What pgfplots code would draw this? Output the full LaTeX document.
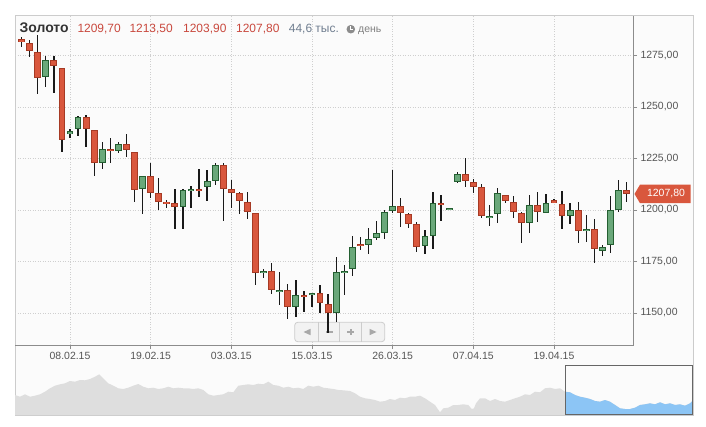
\documentclass[border=0pt]{standalone}
\usepackage{pgfplots}
\pgfplotsset{compat=1.18}
\usepackage{pgfplotstable}
\usepackage{fontspec}
\setmainfont{Liberation Sans}

\definecolor{gfill}{HTML}{6AA87A}
\definecolor{gline}{HTML}{245F31}
\definecolor{rfill}{HTML}{D9573D}
\definecolor{rline}{HTML}{A63A24}
\definecolor{gridc}{HTML}{CFCFCF}
\definecolor{axc}{HTML}{8C8C8C}
\definecolor{txt}{HTML}{555555}
\definecolor{ttlred}{HTML}{C9493E}
\definecolor{volc}{HTML}{6F7D8F}
\definecolor{navgray}{HTML}{DEDEDE}
\definecolor{navblue}{HTML}{8CC5F5}
\definecolor{framec}{HTML}{CCCCCC}
\definecolor{bgc}{HTML}{FBFBFB}
\definecolor{btnc}{HTML}{A8A8A8}

\pgfplotstableread{
x o h l c
3 1264.4 1274.8 1259.9 1272.7
6 1236.7 1239.2 1234.8 1238.2
7 1239.2 1245.6 1236.1 1245.0
10 1222.7 1232.9 1219.8 1229.6
12 1228.5 1233.2 1227.5 1231.9
15 1210.0 1216.5 1198.1 1216.5
20 1201.6 1210.0 1190.6 1209.6
21 1209.4 1211.7 1201.1 1210.0
23 1211.0 1219.4 1204.5 1213.9
24 1214.2 1222.7 1212.1 1222.0
30 1169.6 1171.2 1166.8 1170.2
32 1160.3 1169.9 1154.0 1161.0
34 1153.1 1165.9 1147.9 1158.6
36 1158.6 1159.9 1153.1 1159.6
39 1150.1 1177.0 1145.5 1169.8
40 1169.6 1173.3 1158.7 1170.4
41 1171.2 1187.4 1168.0 1181.9
43 1182.9 1191.1 1178.6 1185.8
44 1186.6 1194.8 1185.4 1188.7
45 1189.0 1200.0 1185.9 1199.0
46 1199.7 1219.4 1198.4 1201.9
50 1182.7 1190.3 1178.5 1187.4
51 1187.5 1208.6 1180.9 1203.3
53 1200.1 1200.8 1200.1 1200.8
54 1213.4 1218.6 1213.0 1217.5
58 1196.1 1202.4 1192.2 1196.9
59 1197.9 1210.5 1193.8 1208.1
63 1193.5 1207.3 1188.7 1202.3
65 1198.7 1207.8 1198.4 1203.3
68 1197.2 1203.3 1193.2 1199.9
70 1189.7 1197.4 1184.5 1190.6
72 1180.0 1183.0 1177.7 1181.9
73 1182.9 1206.8 1179.3 1199.9
74 1199.9 1214.6 1199.2 1209.6
}\greens

\pgfplotstableread{
x o h l c
0 1282.9 1284.1 1279.3 1281.4
1 1280.9 1282.5 1274.4 1277.0
2 1276.6 1284.9 1256.3 1263.9
4 1272.7 1274.8 1256.7 1269.8
5 1268.8 1268.8 1228.3 1234.0
8 1245.0 1246.0 1230.7 1239.5
9 1238.8 1238.8 1216.7 1223.0
11 1229.6 1234.8 1223.0 1228.5
13 1231.9 1236.7 1225.9 1229.0
14 1228.0 1228.0 1203.7 1209.6
16 1216.5 1222.7 1205.7 1208.1
17 1208.1 1215.4 1200.0 1204.0
18 1204.0 1204.9 1200.8 1203.3
19 1203.3 1210.0 1190.9 1201.6
22 1210.0 1219.8 1206.5 1209.4
25 1222.0 1222.7 1194.8 1210.0
26 1210.0 1214.6 1201.1 1208.4
27 1208.1 1208.9 1197.9 1204.5
28 1203.9 1208.7 1195.8 1198.9
29 1198.4 1198.4 1163.4 1169.3
31 1170.2 1174.1 1159.1 1161.0
33 1161.0 1163.9 1146.9 1153.1
35 1158.9 1160.5 1150.6 1157.9
37 1159.6 1163.4 1150.1 1155.0
38 1154.4 1159.2 1140.3 1150.1
42 1183.3 1186.7 1180.6 1182.7
47 1201.9 1205.7 1191.9 1198.7
48 1197.9 1198.7 1191.4 1193.3
49 1193.2 1194.3 1179.8 1182.2
52 1203.5 1207.3 1194.8 1202.8
55 1217.5 1225.1 1211.3 1214.2
56 1213.4 1215.0 1208.1 1211.3
57 1211.0 1212.6 1196.3 1197.2
60 1207.1 1207.1 1203.5 1204.5
61 1203.7 1206.9 1196.3 1198.9
62 1198.7 1199.0 1183.8 1193.5
64 1202.3 1208.6 1194.3 1199.2
66 1204.7 1205.5 1203.3 1203.5
67 1202.9 1209.1 1190.9 1197.2
69 1199.9 1204.0 1183.8 1189.7
71 1190.6 1195.5 1174.4 1180.9
75 1209.7 1213.5 1203.9 1207.8
}\reds

\pgfplotstableread{
x v
15 20
20 18.3
25 20.7
30 18.3
35 19.3
40 20.7
45 23.3
50 26.7
55 29.3
60 30.7
65 31.7
70 34
75 33.3
80 35
85 34.7
90 36
95 38.3
99.3 40.7
103.3 36.7
108.3 31.7
113.3 29.3
118.3 26.7
123.3 26
128.3 27.3
133.3 29.3
138.3 31
143.3 28.3
148.3 26.7
153.3 27.3
158.3 26
163.3 26.7
168.3 28.3
173.3 26.7
178.3 27.3
183.3 26.7
188.3 26.7
193.3 26
198.3 26.7
203.3 25
208.3 20.7
213.3 19.3
218.3 20
223.3 20.7
228.3 23.3
233.3 22.7
238.3 29.3
243.3 30
248.3 30.7
253.3 30
258.3 31.3
263.3 30.7
268.3 33.3
273.3 30
278.3 29.3
283.3 27.3
288.3 28.3
293.3 26.7
298.3 27.3
303.3 26
308.3 29.3
313.3 28.3
318.3 29.3
323.3 27.3
328.3 26.7
333.3 26
338.3 25
343.3 24.7
350 24
355 21.7
360 18.3
365 16.7
370 16
375 15
380 13.3
385 14
390 16
395 15
400 17.3
405 16.7
410 18.3
415 18.3
420 19.3
425 16.7
430 13.3
435 10
440 2.7
443.3 6.7
448.3 7.3
453.3 10
458.3 10
463.3 10.7
468.3 10
471.7 6
474 6.7
476 11.7
480 16.7
485 16.7
490 14
495 16
500 14
505 13.3
510 15
515 16.7
520 18.3
525 20.7
530 20
535 23.3
540 22.7
545 26.7
550 27.3
555 26
560 26.7
565 23.3
570 22.7
575 20
580 18.3
585 17.3
590 16
595 14
600 13.3
605 15
610 13.3
615 10
620 6.7
625 6
630 6
635 7.3
640 10
645 10.7
650 11.7
655 10.7
660 12.7
665 10.7
670 11.7
675 10
680 10.7
685 9.3
690 11.7
692.5 14
}\nav

\pgfplotsset{
  candle/.style n args={2}{only marks, mark size=0pt, mark options={draw opacity=0, fill opacity=0}, forget plot,
    error bars/.cd, y dir=both, y explicit, error mark=none,
    error bar style={line width=#1, color=#2}},
}

\begin{document}
\begin{tikzpicture}
\begin{scope}[x=1bp,y=1bp]
\useasboundingbox (0,0) rectangle (706,426);
\fill[bgc] (15,11) rectangle (693,410);
\draw[framec, line width=1bp] (15,11) rectangle (693,410);
\end{scope}

\begin{axis}[
  at={(15bp,81bp)}, anchor=south west,
  width=618bp, height=329bp, scale only axis,
  xmin=-0.82, xmax=75.8, ymin=1134.47, ymax=1294.17,
  clip mode=individual,
  axis line style={draw=none},
  xtick={6,16,26,36,46,56,66},
  xticklabels={08.02.15,19.02.15,03.03.15,15.03.15,26.03.15,07.04.15,19.04.15},
  ytick={1150,1175,1200,1225,1250,1275},
  yticklabel pos=right,
  tick align=outside,
  major tick length=4bp,
  tick style={axc, line width=0.8bp},
  xtick pos=bottom,
  ytick pos=right,
  grid=major,
  major grid style={gridc, line width=0.8bp, dash pattern=on 1bp off 1.5bp},
  tick label style={font=\fontsize{10.5}{12}\selectfont, color=txt},
  yticklabel style={/pgf/number format/.cd, fixed, fixed zerofill, precision=2, use comma, 1000 sep={}},
  /pgf/number format/assume math mode=true,
]
% zoom buttons (behind the candles)
\coordinate (O) at (rel axis cs:0,0);
\draw[fill=white!95!black, draw=framec, line width=0.8bp, rounded corners=3bp]
  ([shift={(279.7bp,3.3bp)}]O) rectangle ([shift={(369.7bp,22.7bp)}]O);
\draw[framec, line width=0.8bp] ([shift={(303.3bp,3.3bp)}]O) -- ([shift={(303.3bp,22.7bp)}]O);
\draw[framec, line width=0.8bp] ([shift={(324.7bp,3.3bp)}]O) -- ([shift={(324.7bp,22.7bp)}]O);
\draw[framec, line width=0.8bp] ([shift={(346.7bp,3.3bp)}]O) -- ([shift={(346.7bp,22.7bp)}]O);
\fill[btnc] ([shift={(288.5bp,13bp)}]O) -- ([shift={(295.5bp,16.2bp)}]O) -- ([shift={(295.5bp,9.8bp)}]O) -- cycle;
\fill[btnc] ([shift={(311bp,12.2bp)}]O) rectangle ([shift={(317.5bp,14bp)}]O);
\fill[btnc] ([shift={(332.4bp,12.2bp)}]O) rectangle ([shift={(338.9bp,14bp)}]O);
\fill[btnc] ([shift={(334.75bp,9.9bp)}]O) rectangle ([shift={(336.55bp,16.4bp)}]O);
\fill[btnc] ([shift={(361.5bp,13bp)}]O) -- ([shift={(354.5bp,16.2bp)}]O) -- ([shift={(354.5bp,9.8bp)}]O) -- cycle;

% wicks
\addplot[candle={1.3bp}{black!90}]
  table[x=x, y expr={(\thisrow{h}+\thisrow{l})/2}, y error expr={(\thisrow{h}-\thisrow{l})/2}] {\greens};
\addplot[candle={1.3bp}{black!90}]
  table[x=x, y expr={(\thisrow{h}+\thisrow{l})/2}, y error expr={(\thisrow{h}-\thisrow{l})/2}] {\reds};
% green bodies
\addplot[candle={6.8bp}{gline}]
  table[x=x, y expr={(\thisrow{o}+\thisrow{c})/2}, y error expr={max(abs(\thisrow{c}-\thisrow{o})/2,0.45)}] {\greens};
\addplot[candle={4.8bp}{gfill}]
  table[x=x, y expr={(\thisrow{o}+\thisrow{c})/2}, y error expr={max(abs(\thisrow{c}-\thisrow{o})/2-0.5,0.01)}] {\greens};
% red bodies
\addplot[candle={6.8bp}{rline}]
  table[x=x, y expr={(\thisrow{o}+\thisrow{c})/2}, y error expr={max(abs(\thisrow{c}-\thisrow{o})/2,0.45)}] {\reds};
\addplot[candle={4.8bp}{rfill}]
  table[x=x, y expr={(\thisrow{o}+\thisrow{c})/2}, y error expr={max(abs(\thisrow{c}-\thisrow{o})/2-0.5,0.01)}] {\reds};

\draw[axc, line width=1bp] (rel axis cs:0,0) -- (rel axis cs:1,0) -- (rel axis cs:1,1);
\coordinate (P) at (axis cs:75.8,1207.8);
\end{axis}

% last price label
\fill[rfill] ([xshift=1.5bp]P) -- ([shift={(7bp,9.3bp)}]P) -- ([shift={(57.5bp,9.3bp)}]P) -- ([shift={(57.5bp,-9.3bp)}]P) -- ([shift={(7bp,-9.3bp)}]P) -- cycle;
\node[anchor=center, text=white, font=\fontsize{10.5}{12}\selectfont, inner sep=0pt] at ([xshift=33bp]P) {1207,80};

% navigator
\begin{axis}[
  at={(15bp,11bp)}, anchor=south west,
  width=678bp, height=55bp, scale only axis,
  xmin=15, xmax=693, ymin=0, ymax=55,
  hide axis, clip mode=individual,
]
\addplot[fill=navgray, draw=none] table[x=x, y=v] {\nav} \closedcycle;
\addplot[fill=navblue, draw=none, restrict x to domain=565:693] table[x=x, y=v] {\nav} \closedcycle;
\draw[black!60, line width=1bp] (axis cs:565,0.7) rectangle (axis cs:692.7,50);
\end{axis}

\begin{scope}[x=1bp,y=1bp]
% title line
\node[anchor=base west, inner sep=0pt, text=black!80, font=\fontsize{14}{16}\selectfont\bfseries] at (19.5,393) {Золото};
\node[anchor=base west, inner sep=0pt, text=ttlred, font=\fontsize{12}{14}\selectfont] at (77.3,393) {1209,70};
\node[anchor=base west, inner sep=0pt, text=ttlred, font=\fontsize{12}{14}\selectfont] at (129.3,393) {1213,50};
\node[anchor=base west, inner sep=0pt, text=ttlred, font=\fontsize{12}{14}\selectfont] at (183,393) {1203,90};
\node[anchor=base west, inner sep=0pt, text=ttlred, font=\fontsize{12}{14}\selectfont] at (236,393) {1207,80};
\node[anchor=base west, inner sep=0pt, text=volc, font=\fontsize{12}{14}\selectfont] at (288.7,393) {44,6 тыс.};
\fill[black!45] (350.8,396.8) circle (4.3);
\draw[white, line width=0.9bp] (350.8,399.5) -- (350.8,396.8) -- (353,396.8);
\node[anchor=base west, inner sep=0pt, text=black!50, font=\fontsize{10.5}{12}\selectfont] at (358,393) {день};
\end{scope}
\end{tikzpicture}
\end{document}
